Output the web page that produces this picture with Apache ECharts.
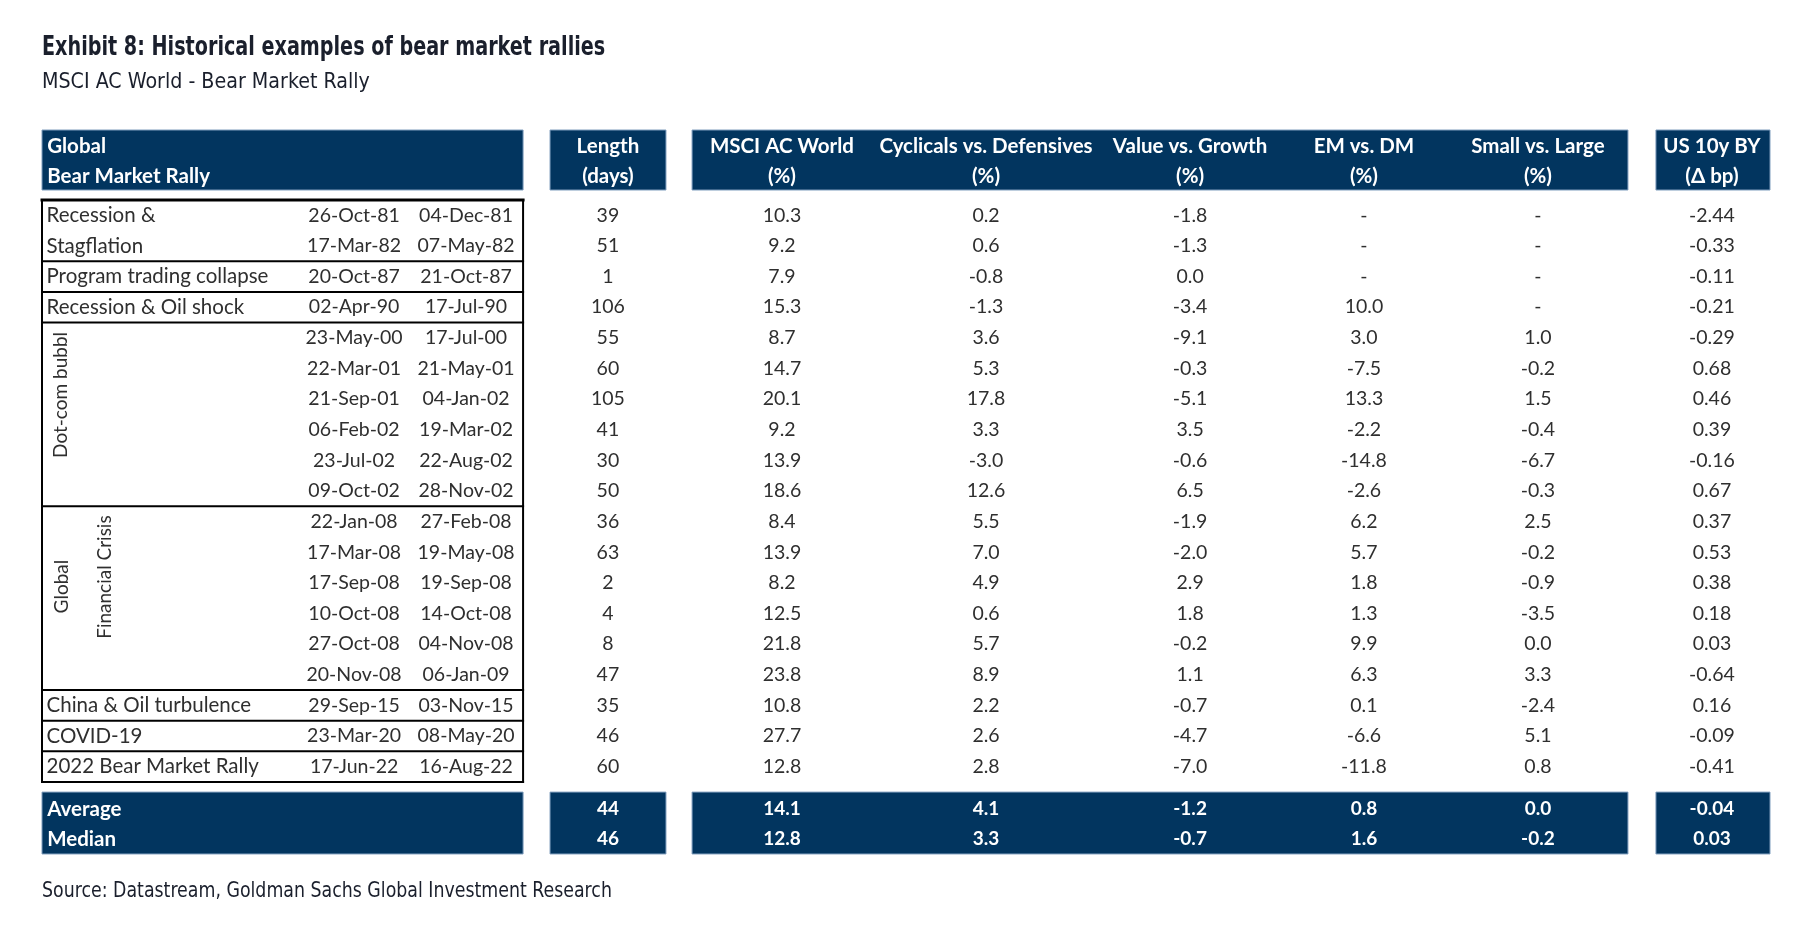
<!DOCTYPE html>
<html>
<head>
<meta charset="utf-8">
<script src="https://cdn.jsdelivr.net/npm/echarts@6/dist/echarts.min.js"></script>
<style>
html,body{margin:0;padding:0;background:#ffffff;}
#chart{width:1800px;height:939px;}
</style>
</head>
<body>
<div id="chart"></div>
<script>
// ---------------- DATA ----------------
const titleText = 'Exhibit 8: Historical examples of bear market rallies';
const subtitleText = 'MSCI AC World - Bear Market Rally';
const sourceText = 'Source: Datastream, Goldman Sachs Global Investment Research';

const headerLine1 = ['Global', 'Length', 'MSCI AC World', 'Cyclicals vs. Defensives', 'Value vs. Growth', 'EM vs. DM', 'Small vs. Large', 'US 10y BY'];
const headerLine2 = ['Bear Market Rally', '(days)', '(%)', '(%)', '(%)', '(%)', '(%)', '(\u0394 bp)'];

const episodeLabels = [['Recession &', 'Stagflation'], ['Program trading collapse'], ['Recession & Oil shock'], ['Dot-com bubbl'], ['Global', 'Financial Crisis'], ['China & Oil turbulence'], ['COVID-19'], ['2022 Bear Market Rally']];
const episodeRowCounts = [2, 1, 1, 6, 6, 1, 1, 1];

const startDates = ['26-Oct-81','17-Mar-82','20-Oct-87','02-Apr-90','23-May-00','22-Mar-01','21-Sep-01','06-Feb-02','23-Jul-02','09-Oct-02','22-Jan-08','17-Mar-08','17-Sep-08','10-Oct-08','27-Oct-08','20-Nov-08','29-Sep-15','23-Mar-20','17-Jun-22'];
const endDates = ['04-Dec-81','07-May-82','21-Oct-87','17-Jul-90','17-Jul-00','21-May-01','04-Jan-02','19-Mar-02','22-Aug-02','28-Nov-02','27-Feb-08','19-May-08','19-Sep-08','14-Oct-08','04-Nov-08','06-Jan-09','03-Nov-15','08-May-20','16-Aug-22'];
const lengthDays = [39, 51, 1, 106, 55, 60, 105, 41, 30, 50, 36, 63, 2, 4, 8, 47, 35, 46, 60];
const msciAcWorld = [10.3, 9.2, 7.9, 15.3, 8.7, 14.7, 20.1, 9.2, 13.9, 18.6, 8.4, 13.9, 8.2, 12.5, 21.8, 23.8, 10.8, 27.7, 12.8];
const cyclicalsVsDefensives = [0.2, 0.6, -0.8, -1.3, 3.6, 5.3, 17.8, 3.3, -3.0, 12.6, 5.5, 7.0, 4.9, 0.6, 5.7, 8.9, 2.2, 2.6, 2.8];
const valueVsGrowth = [-1.8, -1.3, 0.0, -3.4, -9.1, -0.3, -5.1, 3.5, -0.6, 6.5, -1.9, -2.0, 2.9, 1.8, -0.2, 1.1, -0.7, -4.7, -7.0];
const emVsDm = [null, null, null, 10.0, 3.0, -7.5, 13.3, -2.2, -14.8, -2.6, 6.2, 5.7, 1.8, 1.3, 9.9, 6.3, 0.1, -6.6, -11.8];
const smallVsLarge = [null, null, null, null, 1.0, -0.2, 1.5, -0.4, -6.7, -0.3, 2.5, -0.2, -0.9, -3.5, 0.0, 3.3, -2.4, 5.1, 0.8];
const us10yBp = [-2.44, -0.33, -0.11, -0.21, -0.29, 0.68, 0.46, 0.39, -0.16, 0.67, 0.37, 0.53, 0.38, 0.18, 0.03, -0.64, 0.16, -0.09, -0.41];

const summaryLabels = ['Average', 'Median'];
const averageRow = [44, 14.1, 4.1, -1.2, 0.8, 0.0, -0.04];
const medianRow = [46, 12.8, 3.3, -0.7, 1.6, -0.2, 0.03];

// ---------------- LAYOUT (table units: x 0..100 across table, y = row index) ----------------
const NAVY = '#02355f';
const TEXT = '#2f2f2f';
const BODY_FONT = 'Lato, "Open Sans", sans-serif';
const COND_FONT = '"Liberation Sans Narrow", "DejaVu Sans Condensed", sans-serif';

const colX = { name: 0.26, d1: 18.06, d2: 24.54 };
const numColX = [32.75, 42.82, 54.63, 66.44, 76.5, 86.57, 96.64];
const numDecimals = [0, 1, 1, 1, 1, 1, 2];
const headerBoxes = [[0, 27.84], [29.4, 36.11], [37.62, 91.78], [93.4, 100]];
const headerY = [-2.285, -0.326];
const headerLineY = [-1.76, -0.78];
const footerY = [19.33, 21.35];
const footerLineY = [19.88, 20.86];
const vertLayout = {
  3: { xs: [1.1], ys: [8.42], align: 'left' },
  4: { xs: [1.14, 3.65], ys: [12.62, 12.31], align: 'center' }
};
const NAME_SIZE = 20.5, NUM_SIZE = 19.5, HEAD_SIZE = 20.5, VERT_SIZE = 19;

function fmt(v, d) { return v === null ? '-' : v.toFixed(d); }

// ---------------- BUILD CELLS ----------------
const cells = [];
headerLine1.forEach((t, i) => {
  const leftAligned = i === 0;
  const x = leftAligned ? 0.3 : numColX[i - 1];
  cells.push({ x, y: headerLineY[0], text: t, align: leftAligned ? 'left' : 'center', color: '#fff', weight: 'bold', size: HEAD_SIZE });
  cells.push({ x, y: headerLineY[1], text: headerLine2[i], align: leftAligned ? 'left' : 'center', color: '#fff', weight: 'bold', size: HEAD_SIZE });
});
let r0 = 0;
episodeLabels.forEach((lab, e) => {
  const n = episodeRowCounts[e];
  if (vertLayout[e]) {
    const L = vertLayout[e];
    lab.forEach((t, k) => cells.push({ x: L.xs[k], y: L.ys[k], text: t, align: L.align, color: TEXT, weight: 'normal', size: VERT_SIZE, rot: Math.PI / 2 }));
  } else {
    lab.forEach((t, k) => cells.push({ x: colX.name, y: r0 + k + 0.5, text: t, align: 'left', color: TEXT, weight: 'normal', size: NAME_SIZE }));
  }
  r0 += n;
});
const numericCols = [lengthDays, msciAcWorld, cyclicalsVsDefensives, valueVsGrowth, emVsDm, smallVsLarge, us10yBp];
startDates.forEach((d, i) => {
  const y = i + 0.5;
  cells.push({ x: colX.d1, y, text: d, align: 'center', color: TEXT, weight: 'normal', size: NUM_SIZE });
  cells.push({ x: colX.d2, y, text: endDates[i], align: 'center', color: TEXT, weight: 'normal', size: NUM_SIZE });
  numericCols.forEach((arr, c) => {
    cells.push({ x: numColX[c], y, text: fmt(arr[i], numDecimals[c]), align: 'center', color: TEXT, weight: 'normal', size: NUM_SIZE });
  });
});
[averageRow, medianRow].forEach((row, k) => {
  const y = footerLineY[k];
  cells.push({ x: 0.3, y, text: summaryLabels[k], align: 'left', color: '#fff', weight: 'bold', size: HEAD_SIZE });
  row.forEach((v, c) => cells.push({ x: numColX[c], y, text: fmt(v, numDecimals[c]), align: 'center', color: '#fff', weight: 'bold', size: 19 }));
});

const boxes = [];
headerBoxes.forEach(b => { boxes.push([b[0], headerY[0], b[1], headerY[1]]); boxes.push([b[0], footerY[0], b[1], footerY[1]]); });

const nRows = startDates.length;
const lines = [];
lines.push([0, 0, 27.84, 0, 3]);
lines.push([0, nRows, 27.84, nRows, 2]);
lines.push([0, 0, 0, nRows, 2]);
lines.push([27.84, 0, 27.84, nRows, 2]);
let acc = 0;
episodeRowCounts.slice(0, -1).forEach(n => { acc += n; lines.push([0, acc, 27.84, acc, 2]); });

// ---------------- CHART ----------------
const chart = echarts.init(document.getElementById('chart'), null, { renderer: 'canvas' });
chart.setOption({
  animation: false,
  backgroundColor: '#ffffff',
  grid: { left: 42, right: 30, top: 200, height: 582 },
  xAxis: { type: 'value', min: 0, max: 100, show: false },
  yAxis: { type: 'value', min: 0, max: nRows, inverse: true, show: false },
  graphic: [
    { type: 'text', x: 42, y: 48, scaleX: 0.82, style: { text: titleText, fill: '#1a1f2c', font: 'bold 26px ' + COND_FONT, verticalAlign: 'middle' } },
    { type: 'text', x: 42, y: 82, scaleX: 0.965, style: { text: subtitleText, fill: '#1a1f2c', font: '22px ' + COND_FONT, verticalAlign: 'middle' } },
    { type: 'text', x: 42, y: 892, scaleX: 0.92, style: { text: sourceText, fill: '#1a1f2c', font: '21px ' + COND_FONT, verticalAlign: 'middle' } }
  ],
  series: [
    {
      type: 'custom', coordinateSystem: 'cartesian2d', clip: false, silent: true,
      data: boxes,
      encode: { x: [0, 2], y: [1, 3] },
      renderItem: (params, api) => {
        const p0 = api.coord([api.value(0), api.value(1)]);
        const p1 = api.coord([api.value(2), api.value(3)]);
        return { type: 'rect', shape: { x: p0[0], y: p0[1], width: p1[0] - p0[0], height: p1[1] - p0[1] },
          style: { fill: NAVY, stroke: '#7f9dbd', lineWidth: 1 } };
      }
    },
    {
      type: 'custom', coordinateSystem: 'cartesian2d', clip: false, silent: true,
      data: lines,
      encode: { x: [0, 2], y: [1, 3] },
      renderItem: (params, api) => {
        const p0 = api.coord([api.value(0), api.value(1)]);
        const p1 = api.coord([api.value(2), api.value(3)]);
        return { type: 'line', shape: { x1: p0[0], y1: p0[1], x2: p1[0], y2: p1[1] },
          style: { stroke: '#000', lineWidth: api.value(4), lineCap: 'square' } };
      }
    },
    {
      type: 'custom', coordinateSystem: 'cartesian2d', clip: false, silent: true,
      data: cells.map(c => [c.x, c.y]),
      encode: { x: 0, y: 1 },
      renderItem: (params, api) => {
        const c = cells[params.dataIndex];
        const p = api.coord([api.value(0), api.value(1)]);
        return { type: 'text', x: p[0], y: p[1], rotation: c.rot || 0,
          style: { text: c.text, fill: c.color, fontFamily: BODY_FONT, fontWeight: c.weight, fontSize: c.size,
            align: c.align, verticalAlign: 'middle' } };
      }
    }
  ]
});
</script>
</body>
</html>
